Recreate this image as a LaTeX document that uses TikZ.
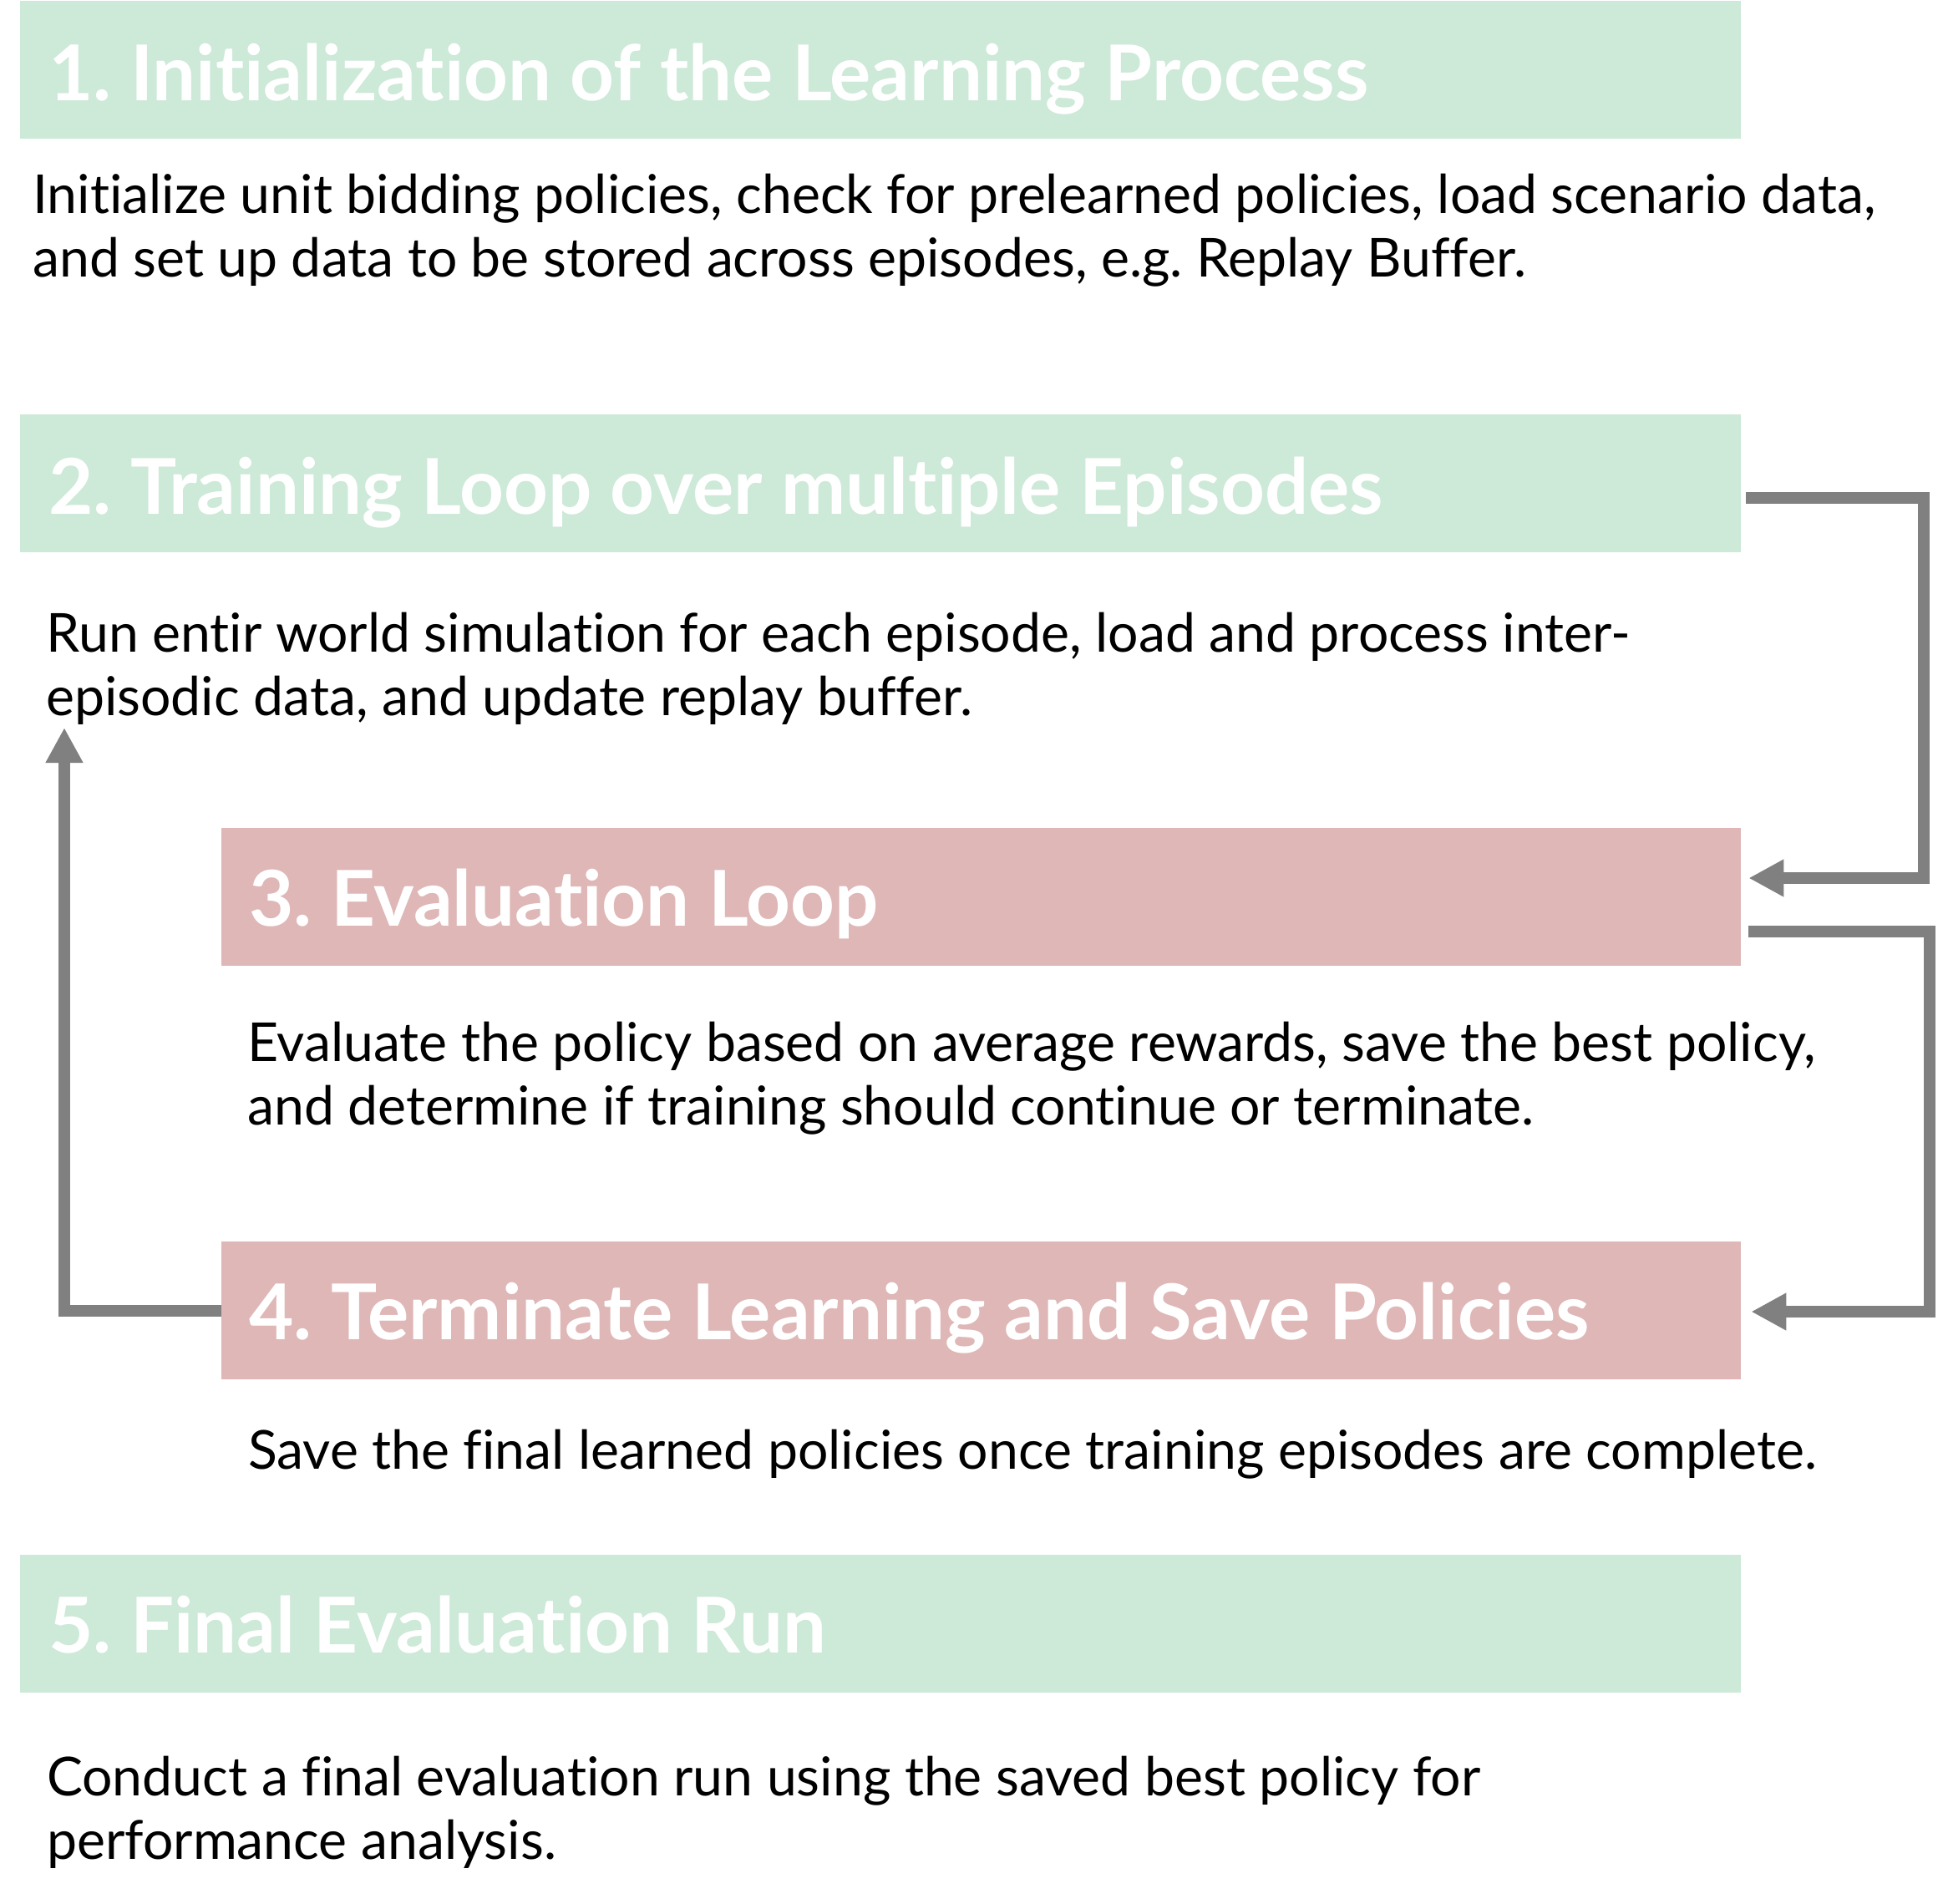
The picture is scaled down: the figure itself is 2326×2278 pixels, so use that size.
\documentclass[tikz,border=0pt]{standalone}
\usepackage{fontspec}
\setmainfont{Lato}[Ligatures=NoCommon]
\usetikzlibrary{arrows.meta}
\definecolor{boxgreen}{RGB}{205,233,216}
\definecolor{boxpink}{RGB}{222,183,182}
\definecolor{conngray}{RGB}{128,128,128}
\frenchspacing
\begin{document}
\begin{tikzpicture}[x=1pt,y=-1pt,
  gbox/.style={fill=boxgreen,draw=none,inner sep=0pt,minimum width=2060pt,minimum height=165pt,anchor=north west},
  pbox/.style={fill=boxpink,draw=none,inner sep=0pt,minimum width=1819pt,minimum height=165pt,anchor=north west},
  title/.style={anchor=base west,inner sep=0pt,text=white,font=\fontsize{92.2}{110}\selectfont\bfseries},
  body/.style={anchor=base west,inner sep=0pt,align=left,text=black,font=\fontsize{64.3}{76}\selectfont},
  conn/.style={draw=conngray,line width=14pt,line join=miter,-{Triangle[length=42pt,width=42pt]}}
]
\useasboundingbox (0,0) rectangle (2326,2278);
\fill[white] (0,0) rectangle (2326,2278);

\node[gbox] (b1) at (24,1) {};
\node[title] (t1) at (58,120) {1. Initialization of the Learning Process};
\node[body] (d1) at (39,331) {Initialize unit bidding policies, check for prelearned policies, load scenario data,\\and set up data to be stored across episodes, e.g. Replay Buffer.};

\node[gbox] (b2) at (24,496) {};
\node[title] (t2) at (58,615) {2. Training Loop over multiple Episodes};
\node[body] (d2) at (55,856) {Run entir world simulation for each episode, load and process inter-\\episodic data, and update replay buffer.};

\node[pbox] (b3) at (265,991) {};
\node[title] (t3) at (298,1108) {3. Evaluation Loop};
\node[body] (d3) at (296,1346) {Evaluate the policy based on average rewards, save the best policy,\\and determine if training should continue or terminate.};

\node[pbox] (b4) at (265,1486) {};
\node[title] (t4) at (298,1603) {4. Terminate Learning and Save Policies};
\node[body] (d4) at (297,1758) {Save the final learned policies once training episodes are complete.};

\node[gbox] (b5) at (24,1861) {};
\node[title] (t5) at (58,1978) {5. Final Evaluation Run};
\node[body] (d5) at (56,2225) {Conduct a final evaluation run using the saved best policy for\\performance analysis.};

\coordinate (tip) at (77,871);

\draw[conn] ([xshift=6pt,yshift=-100pt]b2.north east) -- ++(213,0) |- ([xshift=9pt,yshift=-60pt]b3.north east);
\draw[conn] ([xshift=9pt,yshift=-124pt]b3.north east) -- ++(217,0) |- ([xshift=12pt,yshift=-84pt]b4.north east);
\draw[conn] (b4.west) -| (tip);
\end{tikzpicture}
\end{document}
